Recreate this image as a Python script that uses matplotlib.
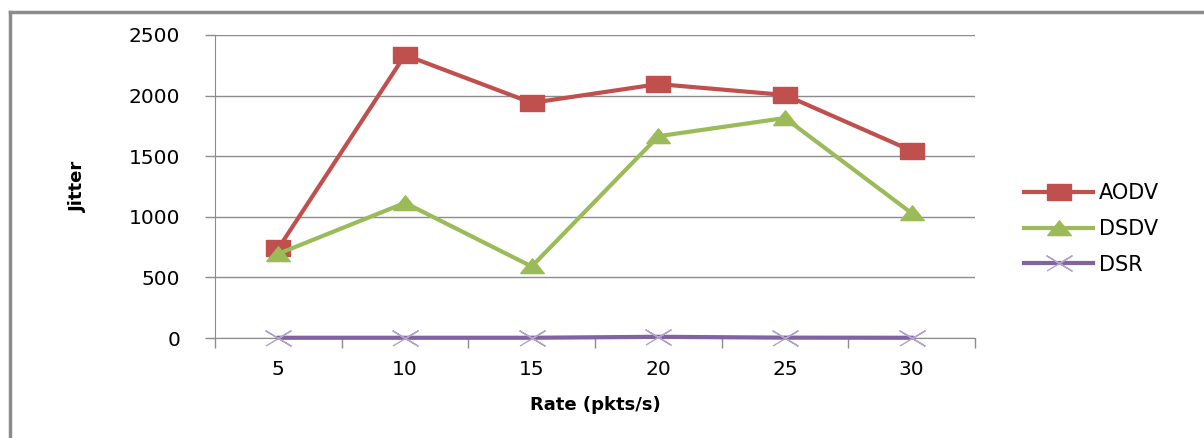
import numpy as np
import matplotlib.pyplot as plt

rates = ["5", "10", "15", "20", "25", "30"]
aodv = [740, 2335, 1940, 2095, 2005, 1545]
dsdv = [695, 1115, 590, 1665, 1815, 1030]
dsr = [2, 2, 2, 10, 3, 2]

grey = "#8c8c8c"

# wide, flat marker shapes
box = [(-1, -0.65), (1, -0.65), (1, 0.65), (-1, 0.65), (-1, -0.65)]
tri = [(-1, -0.6), (1, -0.6), (0, 0.65), (-1, -0.6)]
cross = np.array([[-1, -0.6], [1, 0.6], [0, 0], [1, -0.6], [-1, 0.6], [0, 0]])

fig = plt.figure(figsize=(12.04, 4.38), dpi=100)
ax = fig.add_axes([0.1786, 0.2283, 0.6312, 0.6918])

# outer chart frame (only left and top edges show)
fig.add_artist(plt.Line2D([0.0083, 0.0083], [0, 0.973], color=grey, lw=2.5,
                          transform=fig.transFigure))
fig.add_artist(plt.Line2D([0.0083, 1.0], [0.973, 0.973], color=grey, lw=2.5,
                          transform=fig.transFigure))

x = np.arange(len(rates))
ax.plot(x, aodv, color="#C0504D", lw=3, marker=box, ms=17, mec="#C0504D",
        label="AODV", clip_on=False, zorder=4)
ax.plot(x, dsdv, color="#9BBB59", lw=3, marker=tri, ms=17, mec="#9BBB59",
        label="DSDV", clip_on=False, zorder=4)
ax.plot(x, dsr, color="#8064A2", lw=3, marker=cross, ms=18, mew=1,
        mec="#B3A2C7", label="DSR", clip_on=False, zorder=5)

ax.set_xlim(-0.5, 5.5)
ax.set_ylim(0, 2500)
ax.set_yticks(np.arange(0, 2501, 500))
ax.yaxis.grid(True, color=grey, lw=1)
ax.set_axisbelow(True)

ax.set_xticks(x)
ax.set_xticklabels(rates)
ax.set_xticks(np.arange(-0.5, 6, 1), minor=True)
ax.tick_params(axis="x", which="major", length=0, pad=16, labelsize=14.5)
ax.tick_params(axis="x", which="minor", length=7, color=grey, width=1)
ax.tick_params(axis="y", length=7, color=grey, width=1, pad=18, labelsize=14.5)

for s in ["top", "right"]:
    ax.spines[s].set_visible(False)
ax.spines["left"].set_color(grey)
ax.spines["bottom"].set_color(grey)

ax.set_xlabel("Rate (pkts/s)", fontsize=13, fontweight="bold", labelpad=12)
ax.set_ylabel("Jitter", fontsize=13, fontweight="bold", labelpad=30)

ax.legend(loc="center left", bbox_to_anchor=(1.04, 0.36), frameon=False,
          fontsize=15, handlelength=3.3, handletextpad=0.3, labelspacing=0.75)

fig.savefig("out.png", dpi=100)
